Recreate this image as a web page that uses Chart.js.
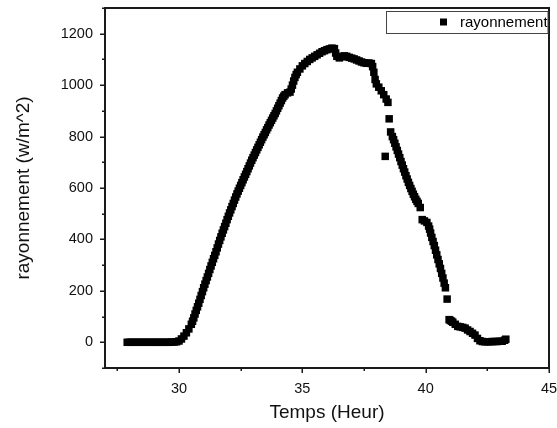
<!DOCTYPE html>
<html><head><meta charset="utf-8">
<script src="https://cdn.jsdelivr.net/npm/chart.js@4"></script>
<style>html,body{margin:0;padding:0;background:#fff}canvas{display:block}</style>
</head><body>
<canvas id="c" width="557" height="428"></canvas>
<script>
const hours = [
27.9,28.0,28.1,28.2,28.3,28.4,28.5,28.6,28.7,28.8,28.9,29.0,29.1,29.2,29.3,29.4,29.5,29.6,29.7,29.8,29.9,
30.0,30.1,30.2,30.3,30.4,30.5,30.55,30.6,30.65,30.7,30.75,30.8,30.85,30.9,30.95,
31.0,31.05,31.1,31.15,31.2,31.25,31.3,31.35,31.4,31.45,31.5,31.55,31.6,31.65,31.7,31.75,31.8,31.85,31.9,31.95,
32.0,32.05,32.1,32.15,32.2,32.25,32.3,32.35,32.4,32.45,32.5,32.55,32.6,32.65,32.7,32.75,32.8,32.85,32.9,32.95,
33.0,33.05,33.1,33.15,33.2,33.25,33.3,33.35,33.4,33.45,33.5,33.55,33.6,33.65,33.7,33.75,33.8,33.85,33.9,33.95,
34.0,34.05,34.1,34.15,34.2,34.25,34.3,34.4,34.5,34.55,34.6,34.65,34.7,34.75,34.8,34.9,
35.0,35.1,35.2,35.3,35.4,35.5,35.6,35.7,35.8,35.9,
36.0,36.1,36.2,36.3,36.35,36.4,36.5,36.6,36.7,36.8,36.9,
37.0,37.1,37.2,37.3,37.4,37.5,37.6,37.7,37.8,37.85,37.9,37.95,
38.0,38.1,38.2,38.3,38.4,38.47,38.52,38.36,38.58,38.65,38.7,38.75,38.8,38.85,38.9,38.95,
39.0,39.05,39.1,39.15,39.2,39.25,39.3,39.35,39.4,39.45,39.5,39.55,39.6,39.65,39.7,39.78,39.86,39.95,
40.05,40.12,40.16,40.2,40.25,40.3,40.35,40.4,40.45,40.5,40.55,40.6,40.65,40.7,40.75,40.8,40.87,40.95,
41.0,41.05,41.1,41.2,41.3,41.4,41.5,41.6,41.7,41.8,41.9,
42.0,42.1,42.2,42.3,42.4,42.5,42.6,42.7,42.8,42.9,
43.0,43.1,43.2,43.25
];
const rayonnement = [
0,0,0,0,0,0,0,0,0,0,0,0,0,0,0,0,0,0,1,1,2,
5,13,24,37,52,70,82,95,110,124,138,152,167,182,197,
212,226,240,254,268,283,297,311,325,338,352,367,382,396,410,424,437,450,463,477,
490,503,515,528,540,553,565,577,588,599,610,621,632,643,653,664,675,686,697,708,
718,728,738,748,758,768,778,788,798,807,816,826,835,845,854,863,872,881,890,900,
910,920,930,940,950,957,963,970,973,985,1000,1016,1030,1041,1050,1063,
1075,1084,1092,1100,1106,1112,1118,1124,1130,1134,
1138,1141,1144,1142,1125,1112,1106,1110,1114,1112,1108,
1105,1102,1098,1094,1090,1087,1085,1086,1084,1072,1050,1022,
1005,992,978,963,946,933,869,723,818,800,788,774,760,746,732,718,
703,689,675,662,648,635,622,610,598,587,576,566,556,548,540,524,477,472,
466,452,440,425,408,392,376,358,340,322,305,287,268,250,230,212,168,88,
85,82,78,70,62,60,58,55,48,42,35,
28,15,6,3,2,2,2,3,3,3,
4,4,8,12
];
const xMajorTicks = [30, 35, 40, 45];
const xMinorTicks = [27.5, 32.5, 37.5, 42.5];
const yMajorTicks = [0, 200, 400, 600, 800, 1000, 1200];
const yMinorTicks = [-100, 100, 300, 500, 700, 900, 1100, 1300];
const seriesLabel = 'rayonnement';
const xTitle = 'Temps (Heur)';
const yTitle = 'rayonnement (w/m^2)';

const FONT = 'Liberation Sans, Arial, Helvetica, sans-serif';
Chart.defaults.font.family = FONT;
Chart.defaults.color = '#000';

const points = hours.map((h, i) => ({x: h, y: rayonnement[i]}));

const framePlugin = {
  id: 'frame',
  afterDraw(chart) {
    const ctx = chart.ctx;
    const a = chart.chartArea;
    const xs = chart.scales.x, ys = chart.scales.y;
    ctx.save();
    ctx.strokeStyle = '#1a1a1a';
    ctx.lineWidth = 1.5;
    ctx.beginPath();
    xMajorTicks.forEach(v => { const p = Math.round(xs.getPixelForValue(v)) + 0.25; ctx.moveTo(p, a.bottom); ctx.lineTo(p, a.bottom + 5); });
    xMinorTicks.forEach(v => { const p = Math.round(xs.getPixelForValue(v)) + 0.25; ctx.moveTo(p, a.bottom); ctx.lineTo(p, a.bottom + 3); });
    yMajorTicks.forEach(v => { const p = Math.round(ys.getPixelForValue(v)) + 0.25; ctx.moveTo(a.left, p); ctx.lineTo(a.left - 5, p); });
    yMinorTicks.forEach(v => { const p = Math.round(ys.getPixelForValue(v)) + 0.25; ctx.moveTo(a.left, p); ctx.lineTo(a.left - 3, p); });
    ctx.stroke();
    ctx.lineWidth = 2;
    ctx.strokeRect(a.left, a.top, a.right - a.left, a.bottom - a.top);
    // legend
    const lx = a.right - 163, ly = a.top + 3, lw = 161.5, lh = 22;
    ctx.lineWidth = 1;
    ctx.strokeStyle = '#444';
    ctx.strokeRect(lx + 0.5, ly + 0.5, lw, lh);
    ctx.fillStyle = '#000';
    ctx.fillRect(lx + 54, ly + 7.5, 7, 7);
    ctx.save();
    ctx.beginPath();
    ctx.rect(lx, ly, lw, lh);
    ctx.clip();
    ctx.font = '15px ' + FONT;
    ctx.textBaseline = 'middle';
    ctx.textAlign = 'left';
    ctx.fillText(chart.data.datasets[0].label, lx + 74, ly + lh / 2 + 1);
    ctx.restore();
    ctx.restore();
  }
};

new Chart(document.getElementById('c'), {
  type: 'scatter',
  data: {
    datasets: [{
      label: seriesLabel,
      data: points,
      pointStyle: 'rect',
      pointRadius: 5.3,
      pointHoverRadius: 5.3,
      borderWidth: 0,
      backgroundColor: '#000',
      borderColor: '#000'
    }]
  },
  options: {
    responsive: false,
    devicePixelRatio: 1,
    animation: false,
    events: [],
    layout: {padding: {left: 0, right: 8, top: 8, bottom: 0}},
    plugins: {legend: {display: false}, tooltip: {enabled: false}},
    scales: {
      x: {
        type: 'linear', position: 'bottom', min: 27, max: 45,
        afterBuildTicks: s => { s.ticks = xMajorTicks.map(v => ({value: v})); },
        afterFit: s => { s.height = 60; s.paddingLeft = 0; s.paddingRight = 0; },
        grid: {display: false, drawTicks: false},
        border: {display: false},
        ticks: {font: {size: 14.5}, color: '#111', padding: 12, maxRotation: 0, autoSkip: false, callback: v => String(v)},
        title: {display: true, text: xTitle, font: {size: 19}, color: '#111', padding: {top: 0, bottom: 3.5}}
      },
      y: {
        type: 'linear', position: 'left', min: -100, max: 1300,
        afterBuildTicks: s => { s.ticks = yMajorTicks.map(v => ({value: v})); },
        afterFit: s => { s.width = 105; s.paddingTop = 0; s.paddingBottom = 0; },
        grid: {display: false, drawTicks: false},
        border: {display: false},
        ticks: {font: {size: 14.5}, color: '#111', padding: 12, autoSkip: false, callback: v => String(v)},
        title: {display: true, text: yTitle, font: {size: 19}, color: '#111', padding: {top: 12.5, bottom: 0}}
      }
    }
  },
  plugins: [framePlugin]
});
</script>
</body></html>
